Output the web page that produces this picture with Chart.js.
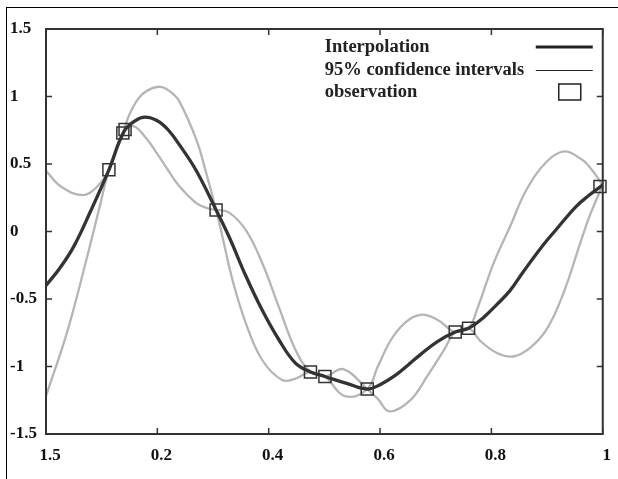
<!DOCTYPE html>
<html>
<head>
<meta charset="utf-8">
<script src="https://cdn.jsdelivr.net/npm/chart.js@4"></script>
<style>
  body { margin: 0; background: #fff; }
  #wrap { position: relative; width: 618px; height: 479px; }
  #frame { position: absolute; left: 6px; top: 7px; right: 0; bottom: 0; border-left: 1px solid #000; border-top: 1px solid #000; }
  canvas { position: absolute; left: 0; top: 0; }
</style>
</head>
<body>
<div id="wrap"><div id="frame"></div><canvas id="gpChart" width="618" height="479"></canvas></div>
<script>
// observations
const obsX = [0.113, 0.138, 0.142, 0.3055, 0.475, 0.501, 0.577, 0.735, 0.759, 0.995];
const obsY = [0.457, 0.73, 0.755, 0.16, -1.04, -1.074, -1.167, -0.745, -0.716, 0.333];

// interpolation (mean)
const meanX = [0, 0.025, 0.05, 0.08, 0.113, 0.14, 0.16, 0.178, 0.2, 0.22, 0.24, 0.27, 0.3055, 0.33, 0.359, 0.388, 0.418, 0.448, 0.475, 0.501, 0.54, 0.577, 0.6, 0.626, 0.65, 0.673, 0.703, 0.735, 0.759, 0.785, 0.81, 0.833, 0.857, 0.893, 0.916, 0.952, 0.976, 1];
const meanY = [-0.40, -0.27, -0.11, 0.15, 0.457, 0.74, 0.82, 0.847, 0.82, 0.75, 0.64, 0.45, 0.16, -0.05, -0.33, -0.58, -0.80, -0.975, -1.04, -1.074, -1.125, -1.167, -1.135, -1.07, -0.99, -0.91, -0.815, -0.745, -0.716, -0.64, -0.54, -0.44, -0.30, -0.10, 0.013, 0.185, 0.27, 0.345];

// 95% confidence curves
const ciAX = [0, 0.027, 0.065, 0.092, 0.113, 0.138, 0.157, 0.18, 0.199, 0.22, 0.24, 0.27, 0.288, 0.3055, 0.329, 0.359, 0.388, 0.418, 0.448, 0.475, 0.501, 0.537, 0.577, 0.596, 0.62, 0.644, 0.673, 0.703, 0.735, 0.759, 0.78, 0.81, 0.839, 0.87, 0.9, 0.93, 0.96, 0.976, 1];
const ciAY = [0.45, 0.333, 0.27, 0.333, 0.457, 0.73, 0.78, 0.69, 0.58, 0.45, 0.333, 0.21, 0.175, 0.16, 0.14, 0.01, -0.23, -0.556, -0.876, -1.04, -1.074, -1.22, -1.167, -1.0, -0.80, -0.68, -0.617, -0.654, -0.745, -0.716, -0.81, -0.9, -0.926, -0.86, -0.72, -0.45, -0.08, 0.11, 0.345];
const ciBX = [0, 0.039, 0.074, 0.098, 0.113, 0.138, 0.151, 0.169, 0.19, 0.208, 0.225, 0.24, 0.27, 0.288, 0.3055, 0.317, 0.335, 0.359, 0.388, 0.424, 0.448, 0.475, 0.501, 0.534, 0.577, 0.596, 0.617, 0.655, 0.685, 0.715, 0.735, 0.759, 0.774, 0.804, 0.835, 0.863, 0.9, 0.931, 0.96, 0.976, 1];
const ciBY = [-1.22, -0.73, -0.185, 0.21, 0.457, 0.73, 0.877, 1.0, 1.06, 1.07, 1.03, 0.96, 0.68, 0.43, 0.16, -0.04, -0.36, -0.68, -0.95, -1.10, -1.09, -1.04, -1.074, -1.02, -1.167, -1.24, -1.333, -1.247, -1.07, -0.876, -0.745, -0.716, -0.58, -0.234, 0.05, 0.309, 0.52, 0.593, 0.54, 0.48, 0.345];

// axis ticks
const xTicks = [0, 0.2, 0.4, 0.6, 0.8, 1];
const xTickLabels = ["1.5", "0.2", "0.4", "0.6", "0.8", "1"];
const yTicks = [-1.5, -1, -0.5, 0, 0.5, 1, 1.5];
const yTickLabels = ["-1.5", "-1", "-0.5", "0", "0.5", "1", "1.5"];

const serif = "'Liberation Serif', 'Times New Roman', serif";
const dark = "#333333";
const light = "#b5b5b5";

function pts(xs, ys) {
  return xs.map((x, i) => ({ x: x, y: ys[i] }));
}

// box + inward ticks, gnuplot style
const frameTicks = {
  id: "frameTicks",
  afterDraw(chart) {
    const { ctx, chartArea: a, scales } = chart;
    ctx.save();
    ctx.strokeStyle = dark;
    ctx.lineWidth = 2;
    ctx.strokeRect(a.left, a.top, a.right - a.left, a.bottom - a.top);
    ctx.lineWidth = 1.5;
    ctx.beginPath();
    xTicks.forEach((v) => {
      const px = scales.x.getPixelForValue(v);
      ctx.moveTo(px, a.bottom); ctx.lineTo(px, a.bottom - 6);
      ctx.moveTo(px, a.top); ctx.lineTo(px, a.top + 6);
    });
    yTicks.forEach((v) => {
      const py = scales.y.getPixelForValue(v);
      ctx.moveTo(a.left, py); ctx.lineTo(a.left + 6, py);
      ctx.moveTo(a.right, py); ctx.lineTo(a.right - 6, py);
    });
    ctx.stroke();
    ctx.restore();
  }
};

// key in the top right corner: text left, sample right
const gnuLegend = {
  id: "gnuLegend",
  afterDraw(chart) {
    const { ctx, chartArea: a } = chart;
    const ds = chart.data.datasets;
    const textX = a.right - 278;
    const sx0 = a.right - 67, sx1 = a.right - 10;
    const rows = [a.top + 18, a.top + 41, a.top + 63];
    ctx.save();
    ctx.font = "bold 18.5px " + serif;
    ctx.fillStyle = "#222";
    ctx.textBaseline = "middle";
    ctx.textAlign = "left";
    ctx.fillText(ds[1].label, textX, rows[0]);
    ctx.fillText(ds[2].label, textX, rows[1]);
    ctx.fillText(ds[0].label, textX, rows[2]);
    ctx.strokeStyle = "#222";
    ctx.lineWidth = 3;
    ctx.beginPath(); ctx.moveTo(sx0, rows[0]); ctx.lineTo(sx1, rows[0]); ctx.stroke();
    ctx.lineWidth = 1;
    ctx.beginPath(); ctx.moveTo(sx0, rows[1] + 0.5); ctx.lineTo(sx1, rows[1] + 0.5); ctx.stroke();
    ctx.lineWidth = 1.5;
    ctx.strokeRect(a.right - 44, rows[2] - 8, 22, 16);
    ctx.restore();
  }
};

const tickFont = { family: serif, size: 17, weight: "bold" };

const ctx = document.getElementById("gpChart").getContext("2d");
const chart = new Chart(ctx, {
  type: "line",
  data: {
    datasets: [
      {
        label: "observation",
        data: pts(obsX, obsY),
        showLine: false,
        pointStyle: "rect",
        pointRadius: 8.5,
        pointBorderColor: dark,
        pointBorderWidth: 1.5,
        pointBackgroundColor: "rgba(0,0,0,0)",
        clip: 10,
        order: 0
      },
      {
        label: "Interpolation",
        data: pts(meanX, meanY),
        borderColor: dark,
        borderWidth: 3.3,
        pointRadius: 0,
        tension: 0.4,
        order: 1
      },
      {
        label: "95% confidence intervals",
        data: pts(ciAX, ciAY),
        borderColor: light,
        borderWidth: 2.3,
        pointRadius: 0,
        tension: 0.4,
        order: 2
      },
      {
        label: "95% confidence intervals",
        data: pts(ciBX, ciBY),
        borderColor: light,
        borderWidth: 2.3,
        pointRadius: 0,
        tension: 0.4,
        order: 2
      }
    ]
  },
  options: {
    responsive: false,
    animation: false,
    layout: { padding: { left: 10, right: 12, top: 29, bottom: 0 } },
    plugins: { legend: { display: false }, tooltip: { enabled: false } },
    scales: {
      x: {
        type: "linear",
        min: 0,
        max: 1,
        afterBuildTicks: (s) => { s.ticks = xTicks.map((v) => ({ value: v })); },
        afterFit: (s) => { s.height = 45; },
        grid: { display: false, drawTicks: false },
        border: { display: false },
        ticks: {
          callback: (v, i) => xTickLabels[i],
          font: tickFont,
          color: "#111",
          padding: 11,
          labelOffset: 4,
          maxRotation: 0,
          autoSkip: false
        }
      },
      y: {
        type: "linear",
        min: -1.5,
        max: 1.5,
        afterBuildTicks: (s) => { s.ticks = yTicks.map((v) => ({ value: v })); },
        afterFit: (s) => { s.width = 36; },
        grid: { display: false, drawTicks: false },
        border: { display: false },
        ticks: {
          callback: (v, i) => yTickLabels[i],
          font: tickFont,
          color: "#111",
          crossAlign: "far",
          autoSkip: false
        }
      }
    }
  },
  plugins: [frameTicks, gnuLegend]
});
</script>
</body>
</html>
